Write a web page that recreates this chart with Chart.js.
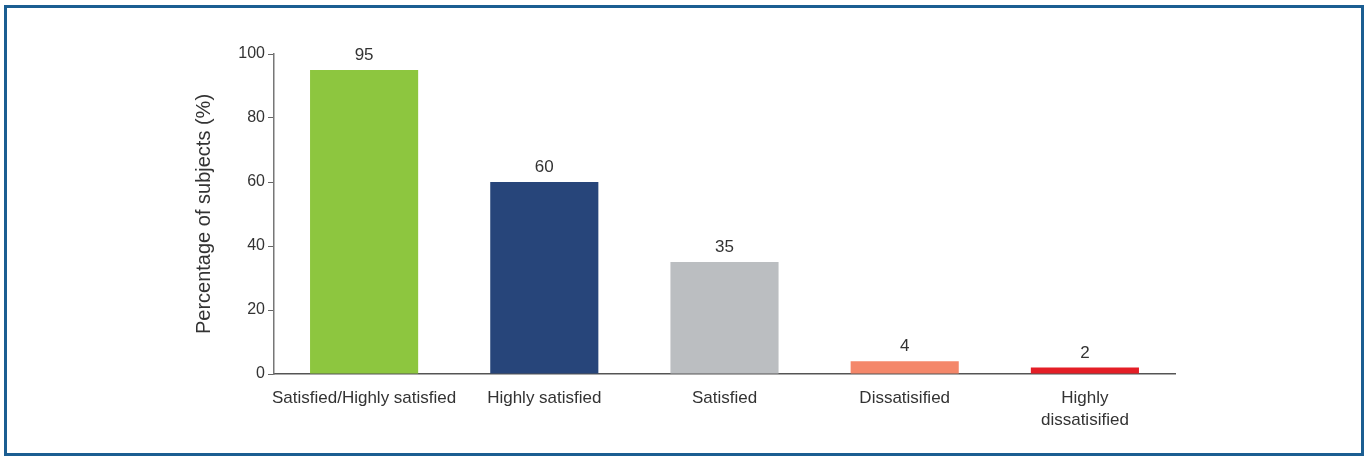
<!DOCTYPE html>
<html>
<head>
<meta charset="utf-8">
<script src="https://cdn.jsdelivr.net/npm/chart.js@4/dist/chart.umd.min.js"></script>
<style>
    html, body { margin: 0; padding: 0; background: #fff; }
    #wrap { position: relative; width: 1367px; height: 456px; }
    #frame {
        position: absolute; left: 4px; top: 5px;
        width: 1354px; height: 445px;
        border: 3px solid #1b5e92;
        pointer-events: none;
    }
    canvas { position: absolute; left: 0; top: 0; }
</style>
</head>
<body>
<div id="wrap">
    <canvas id="satChart" width="1367" height="456"></canvas>
    <div id="frame"></div>
</div>
<script>
// Chart data
const categories = ['Satisfied/Highly satisfied', 'Highly satisfied', 'Satisfied', 'Dissatisified', ['Highly', 'dissatisified']];
const percentages = [95, 60, 35, 4, 2];
const barColors = ['#8dc63f', '#27457a', '#bbbec1', '#f4876a', '#e41e26'];
const yTicks = [0, 20, 40, 60, 80, 100];

const textColor = '#333333';
const fontFamily = '"Liberation Sans", Arial, sans-serif';

// Draw the value above each bar
const valueLabels = {
    id: 'valueLabels',
    afterDatasetsDraw(chart) {
        const ctx = chart.ctx;
        const meta = chart.getDatasetMeta(0);
        ctx.save();
        ctx.fillStyle = textColor;
        ctx.font = '17px ' + fontFamily;
        ctx.textAlign = 'center';
        ctx.textBaseline = 'bottom';
        meta.data.forEach((bar, i) => {
            ctx.fillText(String(percentages[i]), bar.x, bar.y - 6);
        });
        ctx.restore();
    }
};

const ctx = document.getElementById('satChart').getContext('2d');
new Chart(ctx, {
    type: 'bar',
    data: {
        labels: categories,
        datasets: [{
            data: percentages,
            backgroundColor: barColors,
            borderWidth: 0,
            barPercentage: 0.6,
            categoryPercentage: 1
        }]
    },
    options: {
        responsive: false,
        animation: false,
        layout: {
            padding: { left: 190, right: 192, top: 54, bottom: 0 }
        },
        plugins: {
            legend: { display: false },
            tooltip: { enabled: false }
        },
        scales: {
            x: {
                offset: true,
                grid: { display: false, drawTicks: false },
                border: { display: true, color: '#555555', width: 1.5 },
                ticks: {
                    color: textColor,
                    padding: 14,
                    maxRotation: 0,
                    autoSkip: false,
                    font: { family: fontFamily, size: 17, lineHeight: 1.25 }
                },
                afterFit(scale) { scale.height = 82; }
            },
            y: {
                min: 0,
                max: 100,
                afterBuildTicks(scale) { scale.ticks = yTicks.map(v => ({ value: v })); },
                grid: { drawOnChartArea: false, drawTicks: true, tickLength: 6, color: '#666666' },
                border: { display: true, color: '#777777', width: 1.5 },
                ticks: {
                    color: textColor,
                    padding: 3,
                    font: { family: fontFamily, size: 16 }
                },
                title: {
                    display: true,
                    text: 'Percentage of subjects (%)',
                    color: textColor,
                    padding: { top: 2, bottom: 0 },
                    font: { family: fontFamily, size: 20 }
                },
                afterFit(scale) { scale.width = 84; }
            }
        }
    },
    plugins: [valueLabels]
});
</script>
</body>
</html>
